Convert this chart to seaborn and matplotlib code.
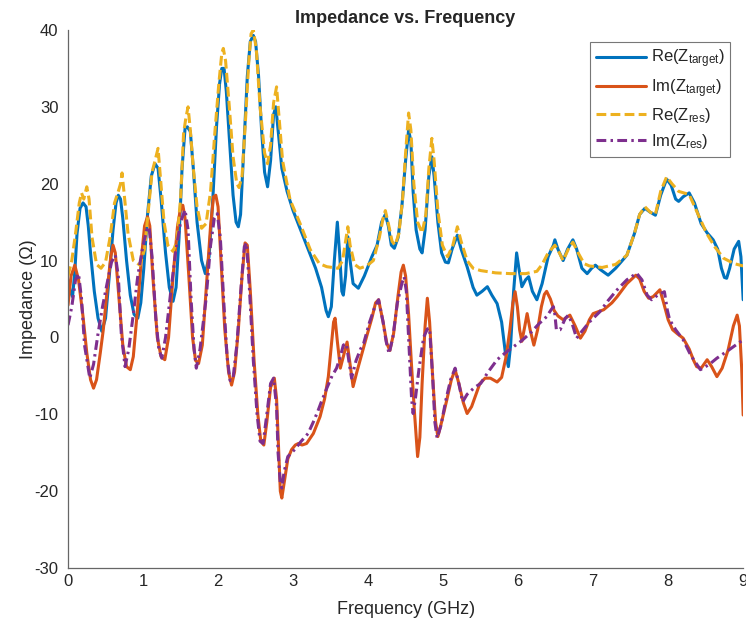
import numpy as np
import pandas as pd
import matplotlib
matplotlib.use("Agg")
import matplotlib.pyplot as plt
import seaborn as sns

# Re(Z_target)
RE_T_F = [0.00, 0.03, 0.06, 0.09, 0.12, 0.16, 0.20, 0.24, 0.27, 0.30, 0.35, 0.40, 0.45, 0.50, 0.55, 0.60,
          0.64, 0.67, 0.70, 0.73, 0.78, 0.83, 0.88, 0.93, 0.97, 1.01, 1.06, 1.11, 1.16, 1.20, 1.24, 1.30,
          1.35, 1.40, 1.44, 1.48, 1.52, 1.56, 1.59, 1.63, 1.67, 1.72, 1.78, 1.83, 1.88, 1.93, 1.98, 2.02,
          2.05, 2.08, 2.11, 2.15, 2.20, 2.24, 2.27, 2.30, 2.34, 2.39, 2.43, 2.47, 2.50, 2.54, 2.58, 2.62,
          2.66, 2.70, 2.74, 2.77, 2.80, 2.85, 2.92, 3.00, 3.10, 3.20, 3.30, 3.38, 3.44, 3.47, 3.51, 3.55,
          3.59, 3.62, 3.65, 3.67, 3.70, 3.73, 3.76, 3.80, 3.87, 3.95, 4.05, 4.12, 4.18, 4.23, 4.27, 4.31,
          4.35, 4.40, 4.45, 4.50, 4.54, 4.57, 4.60, 4.64, 4.69, 4.72, 4.76, 4.81, 4.85, 4.88, 4.93, 4.98,
          5.03, 5.07, 5.12, 5.19, 5.24, 5.32, 5.40, 5.45, 5.52, 5.59, 5.65, 5.72, 5.78, 5.83, 5.87, 5.90,
          5.94, 5.98, 6.01, 6.05, 6.10, 6.14, 6.19, 6.25, 6.32, 6.40, 6.47, 6.49, 6.53, 6.60, 6.66, 6.73,
          6.78, 6.85, 6.92, 6.98, 7.03, 7.10, 7.20, 7.30, 7.45, 7.55, 7.62, 7.69, 7.76, 7.83, 7.90, 7.98,
          8.04, 8.10, 8.14, 8.20, 8.28, 8.35, 8.44, 8.52, 8.60, 8.66, 8.71, 8.75, 8.78, 8.82, 8.88, 8.94,
          8.97, 9.00]
RE_T_V = [7.5, 6.0, 5.3, 8.5, 13.5, 16.8, 17.5, 17.0, 14.5, 11.0, 6.0, 2.5, 0.8, 2.5, 8.0, 14.0,
          17.5, 18.5, 18.0, 15.5, 10.0, 5.5, 3.0, 2.5, 4.5, 9.0, 16.0, 21.0, 22.6, 22.0, 18.0, 11.0,
          6.5, 4.7, 6.5, 13.0, 22.0, 27.2, 27.4, 26.8, 22.0, 15.0, 10.0, 8.3, 10.5, 18.0, 27.5, 33.0,
          35.0, 35.0, 32.0, 26.0, 18.5, 15.0, 14.4, 16.0, 24.0, 34.0, 38.5, 39.3, 38.5, 34.0, 27.0, 21.5,
          19.6, 23.0, 29.0, 30.0, 27.0, 22.0, 19.0, 16.5, 14.0, 11.5, 9.0, 6.5, 3.5, 2.7, 4.0, 10.0,
          15.0, 11.0, 6.0, 5.5, 8.0, 13.1, 10.0, 7.0, 6.4, 8.0, 10.5, 12.0, 15.0, 16.0, 14.5, 12.0,
          11.6, 13.0, 17.0, 23.0, 27.0, 25.5, 19.0, 14.0, 11.5, 11.0, 14.0, 21.0, 23.5, 21.0, 15.0, 11.0,
          9.8, 9.7, 11.5, 13.3, 11.5, 9.2, 6.5, 5.5, 6.0, 6.6, 5.5, 4.4, 2.0, -2.0, -3.8, -1.0,
          6.0, 11.0, 9.0, 6.6, 7.5, 7.9, 6.0, 4.9, 7.0, 10.5, 12.0, 12.7, 11.5, 10.0, 11.5, 12.7,
          11.5, 9.0, 8.3, 9.0, 9.4, 8.8, 8.1, 9.0, 10.7, 13.5, 16.0, 16.8, 16.3, 15.9, 18.5, 20.6,
          19.8, 18.0, 17.7, 18.3, 18.8, 17.5, 14.8, 13.6, 12.7, 11.5, 9.0, 7.8, 7.7, 9.0, 11.5, 12.5,
          10.5, 4.9]

# Im(Z_target)
IM_T_F = [0.00, 0.04, 0.09, 0.14, 0.20, 0.25, 0.30, 0.34, 0.38, 0.43, 0.47, 0.52, 0.57, 0.60, 0.63, 0.68,
          0.73, 0.78, 0.83, 0.87, 0.92, 0.98, 1.02, 1.06, 1.09, 1.13, 1.19, 1.24, 1.29, 1.34, 1.40, 1.46,
          1.50, 1.53, 1.56, 1.61, 1.66, 1.70, 1.74, 1.79, 1.84, 1.90, 1.94, 1.97, 2.00, 2.04, 2.09, 2.14,
          2.18, 2.22, 2.27, 2.32, 2.36, 2.39, 2.43, 2.48, 2.53, 2.57, 2.61, 2.65, 2.70, 2.75, 2.78, 2.81,
          2.83, 2.85, 2.88, 2.93, 2.98, 3.03, 3.07, 3.12, 3.18, 3.27, 3.36, 3.42, 3.47, 3.51, 3.54, 3.56,
          3.59, 3.63, 3.67, 3.72, 3.76, 3.80, 3.85, 3.92, 3.98, 4.05, 4.10, 4.14, 4.20, 4.25, 4.29, 4.34,
          4.40, 4.44, 4.47, 4.50, 4.54, 4.58, 4.62, 4.66, 4.69, 4.72, 4.76, 4.79, 4.82, 4.86, 4.90, 4.93,
          4.98, 5.05, 5.11, 5.16, 5.21, 5.27, 5.32, 5.38, 5.49, 5.56, 5.63, 5.72, 5.78, 5.84, 5.89, 5.93,
          5.96, 5.99, 6.02, 6.05, 6.09, 6.12, 6.16, 6.21, 6.26, 6.31, 6.35, 6.38, 6.43, 6.48, 6.53, 6.60,
          6.69, 6.76, 6.83, 6.89, 6.95, 7.00, 7.14, 7.25, 7.32, 7.45, 7.57, 7.62, 7.68, 7.74, 7.80, 7.89,
          7.94, 8.00, 8.06, 8.12, 8.20, 8.28, 8.34, 8.38, 8.44, 8.52, 8.58, 8.65, 8.72, 8.80, 8.87, 8.92,
          8.95, 8.98, 9.00]
IM_T_V = [4.2, 8.0, 9.4, 7.5, 2.7, -2.0, -5.5, -6.6, -5.5, -2.0, 1.0, 6.0, 10.5, 12.0, 11.0, 5.0,
          -1.0, -3.8, -4.2, -2.5, 3.0, 10.5, 14.5, 15.7, 14.5, 8.0, 0.0, -2.5, -2.9, 0.0, 8.0, 14.5,
          16.8, 17.2, 15.5, 8.0, 0.0, -3.0, -3.4, -1.0, 6.0, 14.5, 18.3, 18.5, 17.0, 10.0, 1.0, -4.5,
          -6.2, -4.5, 1.0, 8.0, 12.3, 12.0, 6.0, -3.0, -10.0, -13.5, -14.0, -11.0, -6.5, -5.3, -8.0, -15.0,
          -20.0, -20.9, -19.0, -15.8, -14.6, -14.0, -13.8, -14.0, -13.8, -12.5, -10.3, -8.0, -5.1, -1.0, 2.0, 2.5,
          -0.5, -4.0, -2.5, -0.6, -3.5, -6.4, -4.5, -2.0, 0.1, 2.5, 4.5, 4.9, 2.0, -0.8, -1.7, 0.5,
          5.5, 8.5, 9.4, 8.0, 3.0, -3.8, -10.0, -15.5, -13.0, -6.0, 1.5, 5.1, 2.0, -5.0, -11.0, -12.9,
          -11.0, -8.1, -5.5, -4.2, -6.0, -8.5, -9.9, -9.0, -6.0, -5.3, -5.3, -5.8, -5.2, -2.5, 1.0, 4.5,
          5.95, 4.0, 1.0, -0.5, 1.5, 3.1, 1.0, -1.0, 1.0, 4.0, 5.6, 6.0, 5.0, 3.5, 2.8, 2.3,
          2.9, 1.5, -0.1, 0.8, 2.3, 3.1, 3.6, 4.5, 5.3, 7.0, 8.1, 7.6, 6.0, 5.1, 5.3, 6.2,
          4.5, 2.3, 1.0, 0.5, -0.1, -1.5, -3.0, -3.8, -4.0, -2.9, -3.8, -5.1, -4.0, -1.6, 1.5, 2.9,
          1.5, -4.0, -10.1]

# Re(Z_res)
RE_R_F = [0.00, 0.05, 0.10, 0.15, 0.18, 0.21, 0.25, 0.28, 0.32, 0.38, 0.44, 0.50, 0.56, 0.62, 0.67, 0.70,
          0.72, 0.75, 0.80, 0.87, 0.96, 1.02, 1.07, 1.12, 1.16, 1.20, 1.23, 1.28, 1.33, 1.40, 1.45, 1.50,
          1.54, 1.57, 1.60, 1.63, 1.67, 1.72, 1.78, 1.84, 1.90, 1.96, 2.01, 2.05, 2.07, 2.10, 2.15, 2.20,
          2.25, 2.28, 2.32, 2.37, 2.41, 2.44, 2.47, 2.51, 2.56, 2.62, 2.66, 2.70, 2.74, 2.78, 2.81, 2.86,
          2.96, 3.09, 3.23, 3.35, 3.45, 3.60, 3.66, 3.70, 3.73, 3.76, 3.82, 3.89, 3.98, 4.07, 4.15, 4.20,
          4.23, 4.27, 4.32, 4.36, 4.41, 4.46, 4.50, 4.54, 4.57, 4.61, 4.66, 4.72, 4.77, 4.81, 4.85, 4.88,
          4.93, 4.99, 5.06, 5.13, 5.19, 5.24, 5.32, 5.40, 5.50, 5.70, 5.90, 6.10, 6.25, 6.32, 6.40, 6.49,
          6.55, 6.60, 6.67, 6.73, 6.80, 6.88, 6.95, 7.12, 7.30, 7.45, 7.55, 7.62, 7.69, 7.76, 7.83, 7.90,
          7.98, 8.05, 8.14, 8.28, 8.40, 8.51, 8.62, 8.74, 8.88, 9.00]
RE_R_V = [8.0, 10.0, 13.5, 17.5, 18.8, 18.0, 19.6, 18.0, 13.0, 9.5, 9.0, 9.8, 13.0, 17.5, 19.0, 20.0,
          21.4, 18.5, 13.5, 10.0, 9.4, 11.5, 16.5, 21.5, 23.0, 24.6, 21.0, 15.0, 12.0, 11.2, 12.5, 18.0,
          26.5, 28.5, 30.0, 27.0, 22.0, 17.0, 14.2, 14.8, 19.0, 27.0, 33.0, 37.0, 37.6, 36.0, 30.0, 23.5,
          20.0, 19.5, 21.0, 29.0, 36.0, 39.5, 40.0, 37.5, 30.0, 24.0, 22.6, 25.0, 30.5, 32.6, 29.0, 23.0,
          17.9, 14.9, 11.4, 9.6, 9.2, 9.0, 10.0, 12.5, 14.4, 12.0, 9.5, 9.0, 9.3, 10.0, 13.0, 15.5,
          16.5, 14.8, 12.5, 12.0, 13.5, 18.0, 24.0, 29.2, 27.0, 20.0, 15.0, 13.6, 16.0, 22.0, 25.9, 23.0,
          16.5, 12.0, 10.5, 12.0, 14.4, 12.5, 10.0, 9.0, 8.7, 8.4, 8.3, 8.3, 8.6, 9.5, 11.0, 12.0,
          11.0, 10.0, 11.5, 12.4, 11.0, 9.6, 9.3, 9.1, 9.5, 10.7, 13.5, 16.0, 17.0, 16.3, 16.0, 19.0,
          20.9, 20.0, 19.0, 18.6, 16.0, 13.6, 11.8, 10.3, 9.6, 9.3]

# Im(Z_res)
IM_R_F = [0.00, 0.05, 0.10, 0.14, 0.18, 0.22, 0.29, 0.34, 0.40, 0.46, 0.52, 0.58, 0.63, 0.67, 0.71, 0.76,
          0.81, 0.87, 0.93, 1.00, 1.05, 1.08, 1.12, 1.17, 1.21, 1.25, 1.30, 1.37, 1.44, 1.50, 1.56, 1.60,
          1.64, 1.68, 1.71, 1.76, 1.84, 1.90, 1.95, 1.99, 2.03, 2.08, 2.12, 2.16, 2.20, 2.25, 2.31, 2.35,
          2.38, 2.42, 2.47, 2.52, 2.56, 2.60, 2.65, 2.70, 2.74, 2.78, 2.80, 2.83, 2.85, 2.88, 2.93, 2.98,
          3.03, 3.10, 3.20, 3.27, 3.33, 3.38, 3.45, 3.52, 3.58, 3.63, 3.67, 3.71, 3.75, 3.78, 3.84, 3.90,
          3.94, 4.02, 4.09, 4.14, 4.20, 4.24, 4.28, 4.33, 4.39, 4.45, 4.48, 4.51, 4.55, 4.58, 4.60, 4.63,
          4.68, 4.74, 4.79, 4.82, 4.86, 4.89, 4.92, 4.97, 5.04, 5.10, 5.16, 5.21, 5.26, 5.32, 5.42, 5.50,
          5.60, 5.72, 5.83, 5.94, 6.05, 6.16, 6.28, 6.38, 6.44, 6.47, 6.49, 6.51, 6.56, 6.63, 6.67, 6.72,
          6.78, 6.85, 6.95, 7.09, 7.20, 7.32, 7.45, 7.58, 7.65, 7.72, 7.78, 7.86, 7.95, 7.99, 8.02, 8.10,
          8.20, 8.30, 8.43, 8.55, 8.65, 8.80, 9.00]
IM_R_V = [1.6, 4.0, 7.5, 8.3, 5.0, -1.0, -5.3, -3.5, 0.5, 4.0, 7.0, 9.8, 10.7, 8.0, 0.5, -3.8,
          -1.5, 3.0, 8.0, 12.0, 14.0, 14.4, 10.5, 2.5, -1.5, -2.7, 0.0, 6.0, 11.5, 15.0, 16.6, 14.0,
          5.0, -1.5, -4.0, -1.5, 5.0, 12.0, 15.5, 16.1, 13.0, 4.0, -2.5, -5.6, -5.3, -1.0, 7.0, 11.8,
          12.3, 6.0, -3.0, -10.0, -13.5, -13.8, -10.0, -6.0, -5.3, -9.0, -15.0, -19.0, -19.6, -17.5, -15.5, -15.0,
          -14.5, -13.6, -12.5, -11.0, -9.6, -8.3, -6.6, -5.0, -4.0, -2.5, -1.0, -0.8, -3.5, -5.3, -3.0, -1.5,
          -0.8, 2.0, 4.0, 4.9, 2.0, -0.5, -2.1, 0.0, 4.5, 7.0, 7.9, 6.0, -2.0, -8.0, -9.9, -8.0,
          -4.0, 0.0, 1.1, 1.2, -5.0, -11.0, -13.1, -11.5, -8.0, -5.5, -4.0, -6.0, -8.4, -7.4, -6.5, -6.0,
          -4.5, -2.9, -2.0, -1.2, -0.4, 0.54, 1.8, 2.7, 3.6, 4.0, 3.0, 1.0, 1.0, 2.5, 2.9, 1.8,
          -0.1, 0.8, 2.0, 3.35, 4.8, 6.2, 7.5, 8.35, 7.5, 5.5, 4.9, 5.5, 5.95, 3.5, 2.3, 1.0,
          -0.3, -2.3, -4.2, -3.5, -2.7, -1.7, -0.3]

SERIES = ["Re(Z$_{\\mathregular{target}}$)", "Im(Z$_{\\mathregular{target}}$)",
          "Re(Z$_{\\mathregular{res}}$)", "Im(Z$_{\\mathregular{res}}$)"]
COLORS = ["#0072BD", "#D95319", "#EDB120", "#7E2F8E"]
STYLES = ["-", "-", (0, (3.2, 1.4)), (0, (3.2, 1.4, 0.8, 1.4))]

sns.set_style("white")
plt.rcParams["font.family"] = ["Liberation Sans", "DejaVu Sans"]
plt.rcParams["mathtext.default"] = "regular"
plt.rcParams["axes.unicode_minus"] = False

fig = plt.figure(figsize=(7.46, 6.22), dpi=100)
ax = fig.add_axes([0.0912, 0.0868, 0.905, 0.865])

data = [(RE_T_F, RE_T_V), (IM_T_F, IM_T_V), (RE_R_F, RE_R_V), (IM_R_F, IM_R_V)]
for (f, v), name, c, ls in zip(data, SERIES, COLORS, STYLES):
    df = pd.DataFrame({"freq": f, "z": v})
    sns.lineplot(data=df, x="freq", y="z", ax=ax, color=c, linestyle=ls,
                 linewidth=2.2, label=name, sort=False, estimator=None)

ax.set_xlim(0, 9)
ax.set_ylim(-30, 40)
ax.set_xticks(range(0, 10))
ax.set_yticks(range(-30, 41, 10))
ax.tick_params(direction="in", length=5, width=0.8, labelcolor="#262626", labelsize=12,
               color="#666666", pad=7)
ax.tick_params(axis="x", pad=4)
ax.spines[["top", "right"]].set_visible(False)
for s in ["left", "bottom"]:
    ax.spines[s].set_color("#666666")
    ax.spines[s].set_linewidth(0.9)

ax.set_xlabel("Frequency (GHz)", fontsize=13, color="#262626")
ax.set_ylabel("Impedance (Ω)", fontsize=13, color="#262626")
ax.xaxis.set_label_coords(0.5, -0.062)
ax.yaxis.set_label_coords(-0.046, 0.5)
ax.set_title("Impedance vs. Frequency", fontsize=13, fontweight="bold", pad=5)

leg = ax.legend(loc="upper right", bbox_to_anchor=(0.981, 0.978), borderaxespad=0,
                fontsize=12, frameon=True, fancybox=False, handlelength=3.0,
                handletextpad=0.3, borderpad=0.35, labelspacing=0.4)
leg.get_frame().set_edgecolor("#555555")
leg.get_frame().set_linewidth(0.8)

fig.savefig("out.png", dpi=100)
